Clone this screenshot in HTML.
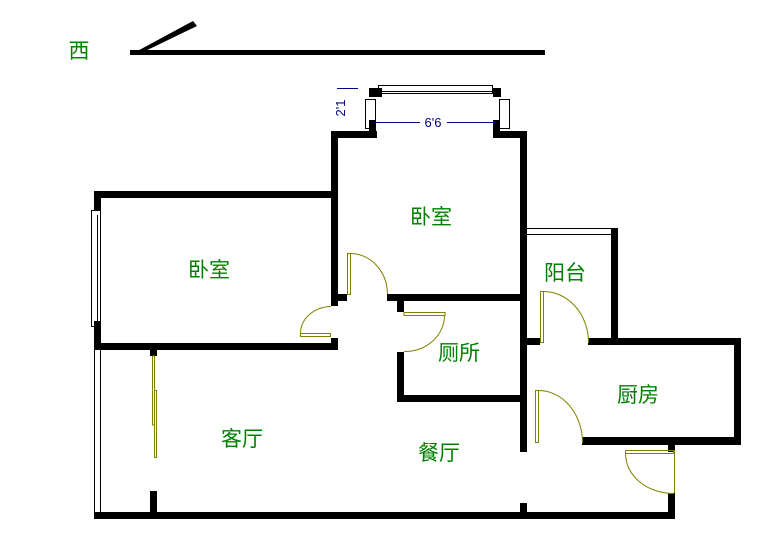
<!DOCTYPE html><html><head><style>body{margin:0;background:#fff}svg{display:block}text{font-family:"Liberation Sans","Noto Sans CJK SC",sans-serif}</style></head><body>
<svg width="780" height="551" viewBox="0 0 780 551" xmlns="http://www.w3.org/2000/svg">
<g fill="#000">
<rect x="130" y="50" width="415" height="5"/>
<polygon points="130,55 137,55 197,26 193,21"/>
<rect x="331" y="131" width="7" height="175"/>
<rect x="331" y="131" width="46" height="7"/>
<rect x="493" y="131" width="34" height="7"/>
<rect x="520" y="131" width="7" height="321"/>
<rect x="369" y="88" width="13" height="9"/>
<rect x="493" y="88" width="8" height="9"/>
<rect x="369" y="120" width="7" height="18"/>
<rect x="493" y="120" width="7" height="18"/>
<rect x="94" y="191" width="244" height="7"/>
<rect x="94" y="191" width="7" height="20"/>
<rect x="94" y="321" width="7" height="28"/>
<rect x="94" y="343" width="244" height="7"/>
<rect x="331" y="338" width="7" height="12"/>
<rect x="331" y="294" width="16" height="7"/>
<rect x="387" y="294" width="140" height="7"/>
<rect x="397" y="294" width="7" height="18"/>
<rect x="397" y="352" width="7" height="50"/>
<rect x="397" y="395" width="130" height="7"/>
<rect x="94" y="512" width="581" height="7"/>
<rect x="150" y="349" width="7" height="7"/>
<rect x="150" y="491" width="7" height="28"/>
<rect x="520" y="503" width="7" height="16"/>
<rect x="611" y="228" width="7" height="117"/>
<rect x="520" y="338" width="20" height="7"/>
<rect x="588" y="338" width="153" height="7"/>
<rect x="734" y="338" width="7" height="107"/>
<rect x="582" y="437" width="159" height="8"/>
<rect x="668" y="437" width="7" height="15"/>
<rect x="668" y="493" width="7" height="26"/>
</g>
<g fill="none" stroke="#000" stroke-width="1">
<rect x="378.5" y="85.5" width="114" height="8"/>
<line x1="382" y1="91.5" x2="493" y2="91.5"/>
<rect x="365.5" y="99.5" width="10" height="29"/>
<rect x="499.5" y="99.5" width="10" height="29"/>
<rect x="91.5" y="210.5" width="9" height="116"/>
<line x1="97.5" y1="215" x2="97.5" y2="322"/>
<line x1="94.5" y1="350" x2="94.5" y2="512"/>
<line x1="100.5" y1="350" x2="100.5" y2="512"/>
<line x1="527" y1="228.5" x2="611" y2="228.5"/>
<line x1="527" y1="234.5" x2="611" y2="234.5"/>
</g>
<g fill="none" stroke="#808000" stroke-width="1">
<rect x="347.5" y="253.5" width="3" height="41"/>
<path d="M350.5,253.5 A37,41 0 0 1 387.5,294"/>
<rect x="300.5" y="333.5" width="30" height="3"/>
<path d="M300.5,333.5 A31,27 0 0 1 331,306.5"/>
<rect x="404" y="312.5" width="41" height="3"/>
<path d="M444.5,315.5 A40,36 0 0 1 404,351.5"/>
<rect x="152.5" y="356" width="2" height="69"/>
<rect x="154.5" y="390.5" width="2" height="67"/>
<rect x="540.5" y="291.5" width="3" height="51"/>
<path d="M543.5,291.5 A45,51 0 0 1 588.5,343"/>
<rect x="535.5" y="390.5" width="3" height="52"/>
<path d="M538.5,390.5 A44,52 0 0 1 582.5,443"/>
<rect x="625.5" y="450.5" width="48" height="3"/>
<line x1="674.5" y1="450" x2="674.5" y2="493"/>
<path d="M625.5,453 A48,40 0 0 0 673.5,493.5"/>
</g>
<g stroke="#000080" stroke-width="1" fill="none">
<line x1="337" y1="88.5" x2="358" y2="88.5"/>
<line x1="372" y1="122.5" x2="420" y2="122.5"/>
<line x1="447" y1="122.5" x2="497" y2="122.5"/>
</g>
<text x="433" y="127" font-size="13" fill="#000080" text-anchor="middle">6'6</text>
<text transform="translate(345,108) rotate(-90)" font-size="13" fill="#000080" text-anchor="middle">2'1</text>
<g fill="#008000" font-size="21" text-anchor="middle">
<text x="79" y="58">西</text>
<text x="431" y="224">卧室</text>
<text x="209" y="277">卧室</text>
<text x="565" y="280">阳台</text>
<text x="459" y="360">厕所</text>
<text x="638" y="402">厨房</text>
<text x="242" y="446">客厅</text>
<text x="439" y="460">餐厅</text>
</g>
</svg>
</body></html>
